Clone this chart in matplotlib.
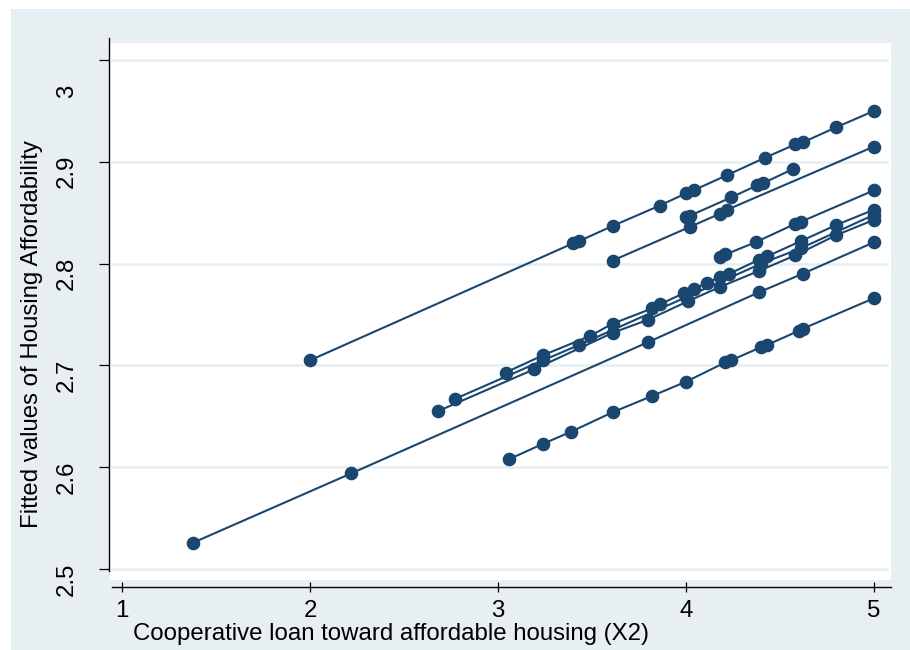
import matplotlib
matplotlib.use("Agg")
import matplotlib.pyplot as plt
from matplotlib import font_manager
from matplotlib.transforms import ScaledTranslation
from matplotlib.patches import Rectangle

# ---- fitted values per group: (X2, fitted Housing Affordability) ----
x_g1 = [2.00, 3.40, 3.43, 3.61, 3.86, 4.00, 4.04, 4.22, 4.42, 4.58, 4.62, 4.80, 5.00]
y_g1 = [2.705, 2.820, 2.822, 2.837, 2.857, 2.869, 2.872, 2.887, 2.904, 2.917, 2.919, 2.934, 2.950]

x_g2 = [3.61, 4.02, 4.18, 4.22, 5.00]
y_g2 = [2.803, 2.836, 2.849, 2.853, 2.915]

x_g3 = [4.00, 4.02, 4.24, 4.38, 4.41, 4.57]
y_g3 = [2.846, 2.847, 2.865, 2.877, 2.879, 2.893]

x_g4 = [4.18, 4.21, 4.37, 4.58, 4.61, 5.00]
y_g4 = [2.806, 2.809, 2.821, 2.839, 2.841, 2.872]

x_g5 = [3.04, 3.24, 3.49, 3.61, 3.82, 3.86, 3.99, 4.04, 4.11, 4.18, 4.23, 4.39, 4.43, 4.61, 4.80, 5.00]
y_g5 = [2.693, 2.710, 2.729, 2.741, 2.756, 2.760, 2.771, 2.775, 2.781, 2.787, 2.790, 2.804, 2.807, 2.822, 2.838, 2.853]

x_g6 = [2.77, 3.24, 3.43, 4.00, 4.40, 4.61, 5.00]
y_g6 = [2.667, 2.705, 2.720, 2.767, 2.800, 2.815, 2.848]

x_g7 = [2.68, 3.19, 3.61, 3.80, 4.01, 4.18, 4.39, 4.58, 4.80, 5.00]
y_g7 = [2.655, 2.696, 2.732, 2.745, 2.763, 2.777, 2.793, 2.808, 2.828, 2.843]

x_g8 = [1.38, 2.22, 3.80, 4.39, 4.62, 5.00]
y_g8 = [2.526, 2.594, 2.723, 2.772, 2.790, 2.821]

x_g9 = [3.06, 3.24, 3.39, 3.61, 3.82, 4.00, 4.21, 4.24, 4.40, 4.43, 4.60, 4.62, 5.00]
y_g9 = [2.608, 2.623, 2.635, 2.654, 2.670, 2.684, 2.703, 2.705, 2.718, 2.720, 2.734, 2.736, 2.766]

groups = [(x_g1, y_g1), (x_g2, y_g2), (x_g3, y_g3), (x_g4, y_g4), (x_g5, y_g5),
          (x_g6, y_g6), (x_g7, y_g7), (x_g8, y_g8), (x_g9, y_g9)]

x_ticks = [1, 2, 3, 4, 5]
y_ticks = [2.5, 2.6, 2.7, 2.8, 2.9, 3.0]
y_ticklabels = ["2.5", "2.6", "2.7", "2.8", "2.9", "3"]
x_title = "Cooperative loan toward affordable housing (X2)"
y_title = "Fitted values of Housing Affordability"

# ---- styling ----
NAVY = "#1a476f"
REGION = "#e8eff2"
GRID = "#e6eef1"

installed = {f.name for f in font_manager.fontManager.ttflist}
narrow = [n for n in ("Liberation Sans Narrow", "Arial Narrow", "Nimbus Sans Narrow",
                      "DejaVu Sans Condensed") if n in installed]
family = narrow + ["Liberation Sans", "DejaVu Sans"]
plt.rcParams["font.family"] = family
FS = 17.3

W, H = 910, 650
fig = plt.figure(figsize=(W / 100, H / 100), dpi=100, facecolor="white")

# graph region
fig.add_artist(Rectangle((11 / W, 0), 1 - 11 / W, (H - 9) / H,
                         transform=fig.transFigure, facecolor=REGION,
                         edgecolor="none", zorder=0))

# plot region (pixels: x 110..891, y 43..580)
ax = fig.add_axes([110 / W, 1 - 580 / H, (891 - 110) / W, (580 - 43) / H])
ax.set_facecolor("white")
ax.set_zorder(1)
ax.set_xlim(0.9362, 5.0904)
ax.set_ylim(2.4892, 3.0167)

for yv in y_ticks:
    ax.axhline(yv, xmin=0.003, xmax=0.995, color=GRID, lw=1.8, zorder=0.5)

for xs, ys in groups:
    ax.plot(xs, ys, color=NAVY, lw=1.5, marker="o", ms=8.8,
            markerfacecolor=NAVY, markeredgecolor=NAVY, zorder=3)

for side in ("top", "right"):
    ax.spines[side].set_visible(False)
ax.spines["left"].set_position(("outward", 0.72))
ax.spines["left"].set_bounds(2.498, 3.0216)
ax.spines["bottom"].set_position(("outward", 5.0))
ax.spines["bottom"].set_bounds(0.947, 5.0904)
for side in ("left", "bottom"):
    ax.spines[side].set_linewidth(1.0)
    ax.spines[side].set_color("black")

ax.set_xticks(x_ticks)
ax.set_xticklabels([str(v) for v in x_ticks])
ax.set_yticks(y_ticks)
ax.set_yticklabels(y_ticklabels, rotation=90, va="center")
ax.tick_params(axis="x", direction="inout", length=7, width=0.9, pad=6,
               labelsize=FS, colors="black")
ax.tick_params(axis="y", direction="out", length=7.2, width=0.9, pad=15,
               labelsize=FS, colors="black")

# shift the rotated y labels slightly below their ticks
for lab in ax.get_yticklabels():
    dy = -31 if lab.get_text() == "3" else -10
    lab.set_transform(lab.get_transform() + ScaledTranslation(0, dy / 100, fig.dpi_scale_trans))

fig.text(32 / W, 1 - 334 / H, y_title, rotation=90, ha="center", va="center",
         fontsize=FS)
fig.text(133 / W, 1 - 634 / H, x_title, ha="left", va="center", fontsize=FS)

fig.savefig("out.png", dpi=100, facecolor="white")
